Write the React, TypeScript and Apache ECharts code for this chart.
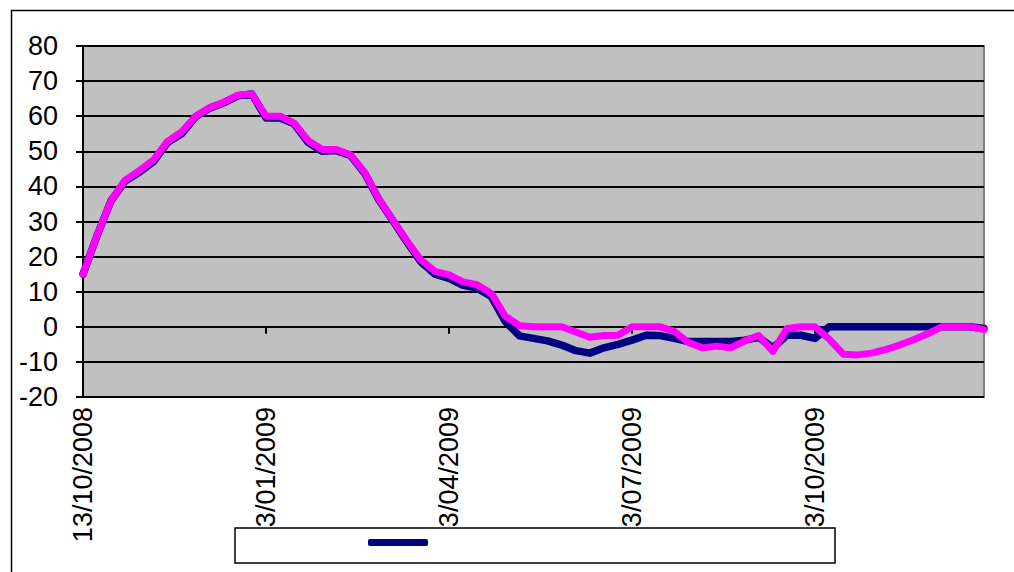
import React, { useEffect, useRef } from "react";
import * as echarts from "echarts";

const tickLabels = ["13/10/2008", "3/01/2009", "3/04/2009", "3/07/2009", "3/10/2009"];
const pointCount = 65;
const labelEvery = 13;
const categories: string[] = Array.from({ length: pointCount }, (_, i) =>
  i % labelEvery === 0 ? tickLabels[i / labelEvery] : "w" + i
);

const navySeries = [
  15, 26, 36, 41.5, 44, 47, 52.5, 55, 59.8, 62.3, 63.8, 65.8, 66.3, 59.5, 59.5, 57.8,
  52.5, 50, 50.2, 48.8, 43.8, 36.3, 30.3, 24.2, 18.5, 15, 13.8, 11.8, 11, 8.6, 1.5,
  -2.6, -3.3, -4, -5.2, -6.8, -7.5, -6, -5, -3.8, -2.4, -2.5, -3.3, -4.2, -4.2, -4.2,
  -4.2, -3.8, -3, -6, -2.4, -2.4, -3.3, 0, 0, 0, 0, 0, 0, 0, 0, 0, 0, 0, -0.5,
];

const magentaSeries = [
  15, 26, 36, 41.8, 44.5, 47.5, 52.8, 55.5, 60, 62.5, 64, 66, 66.3, 60, 60, 58,
  53, 50.5, 50.5, 49, 44, 36.5, 30.5, 24.5, 19, 15.8, 14.8, 12.8, 12, 9.5, 3,
  0.3, 0, 0, 0, -1.5, -3, -2.5, -2.4, 0, 0, 0, -1.3, -4.5, -6, -5.5,
  -6, -4, -2.5, -7, -0.5, 0, 0, -3.5, -7.8, -8, -7.5, -6.5, -5.2, -3.7, -2, 0, 0, 0, -0.8,
];

const yMin = -20;
const yMax = 80;
const yStep = 10;

export default function App() {
  const ref = useRef<HTMLDivElement>(null);
  useEffect(() => {
    if (!ref.current) return;
    const chart = echarts.init(ref.current, undefined, { renderer: "svg" });
    const font = "'Liberation Sans', Arial, sans-serif";
    chart.setOption({
      animation: false,
      backgroundColor: "#ffffff",
      grid: {
        left: 83,
        right: 30,
        top: 46,
        bottom: 175,
        show: true,
        backgroundColor: "#c0c0c0",
        borderColor: "#808080",
        borderWidth: 2,
      },
      xAxis: {
        type: "category",
        data: categories,
        boundaryGap: false,
        axisLine: { show: true, lineStyle: { color: "#000", width: 2 } },
        axisTick: {
          show: true,
          interval: labelEvery - 1,
          length: 7,
          lineStyle: { color: "#000", width: 2 },
        },
        axisLabel: {
          interval: labelEvery - 1,
          rotate: 90,
          margin: 10,
          color: "#000",
          fontSize: 27,
          fontFamily: font,
        },
        splitLine: { show: false },
      },
      yAxis: {
        type: "value",
        min: yMin,
        max: yMax,
        interval: yStep,
        axisLine: { show: true, lineStyle: { color: "#000", width: 2 } },
        axisTick: { show: true, length: 7, lineStyle: { color: "#000", width: 2 } },
        axisLabel: {
          margin: 25,
          color: "#000",
          fontSize: 27,
          fontFamily: font,
        },
        splitLine: { show: true, lineStyle: { color: "#000", width: 2 } },
      },
      legend: {
        data: [{ name: " ", icon: "roundRect" }],
        left: 368,
        top: 539,
        itemWidth: 60,
        itemHeight: 7,
        itemGap: 0,
        padding: 0,
        formatter: () => "",
        textStyle: { fontSize: 12 },
        selectedMode: false,
        zlevel: 2,
        z: 30,
      },
      graphic: {
        zlevel: 1,
        elements: [
          {
            type: "rect",
            left: 9,
            top: 8,
            shape: { x: 0, y: 0, width: 1020, height: 600 },
            style: { fill: "none", stroke: "#000", lineWidth: 1.5 },
            silent: true,
          },
          {
            type: "rect",
            shape: { x: 235, y: 528, width: 600, height: 35 },
            style: { fill: "#fff", stroke: "#000", lineWidth: 1.5 },
            silent: true,
          },
        ],
      },
      series: [
        {
          name: " ",
          type: "line",
          data: navySeries,
          showSymbol: false,
          symbol: "none",
          itemStyle: { color: "#000080" },
          lineStyle: { color: "#000080", width: 7.5, join: "round", cap: "round" },
          z: 3,
        },
        {
          name: "magenta",
          type: "line",
          data: magentaSeries,
          showSymbol: false,
          symbol: "none",
          itemStyle: { color: "#ff00ff" },
          lineStyle: { color: "#ff00ff", width: 7, join: "round", cap: "round" },
          z: 4,
        },
      ],
    });
    return () => chart.dispose();
  }, []);
  return (
    <div
      ref={ref}
      style={{ position: "fixed", left: 0, top: 0, width: 1014, height: 572 }}
    />
  );
}
